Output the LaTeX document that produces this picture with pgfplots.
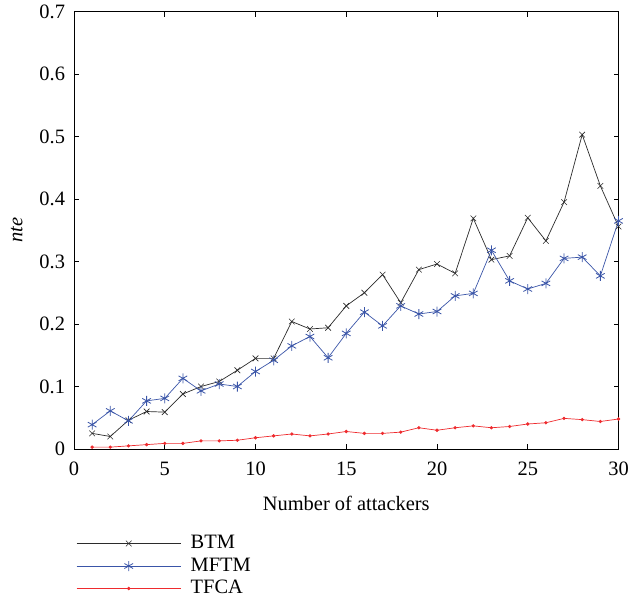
\documentclass[border=0pt]{standalone}
\usepackage{pgfplots}
\pgfplotsset{compat=1.18}
\usepackage{fontspec}
\setmainfont{Liberation Serif}
\definecolor{btm}{HTML}{2B2B2B}
\definecolor{mftm}{HTML}{3A55A8}
\definecolor{tfca}{HTML}{EE2B2E}
\begin{document}
\fontsize{20.5}{23}\selectfont
\begin{tikzpicture}
\useasboundingbox (-74bp,-154bp) rectangle (555bp,437.5bp+11.5bp);
\begin{axis}[
  at={(0,0)}, anchor=south west,
  scale only axis,
  width=544.5bp, height=437.5bp,
  xmin=0, xmax=30, ymin=0, ymax=0.7,
  xtick={0,5,...,30},
  ytick={0,0.1,...,0.7},
  yticklabels={0,0.1,0.2,0.3,0.4,0.5,0.6,0.7},
  tick align=inside,
  major tick length=5bp,
  axis line style={line width=0.9bp},
  every tick/.style={black, line width=0.8bp},
  /pgf/number format/assume math mode=true,
  tick label style={font=\fontsize{20.5}{23}\selectfont},
  xticklabel style={yshift=-6bp},
  yticklabel style={xshift=-2bp},
  xlabel={Number of attackers},
  ylabel={\textit{nte}},
  label style={font=\fontsize{20.5}{23}\selectfont},
  xlabel style={yshift=-7bp},
  ylabel style={yshift=3bp},
  legend style={at={(0.004,-0.195)}, anchor=north west, draw=none, fill=none,
    font=\fontsize{20.5}{23}\selectfont, row sep=4.5bp, inner sep=0pt,
    nodes={inner sep=0bp, text height=14bp, text depth=4bp}},
  legend cell align=left,
  legend image code/.code={\draw[mark repeat=2,mark phase=2,#1] plot coordinates {(0bp,0bp) (52bp,0bp) (104bp,0bp)};
    \path[draw=none,fill=none] (0bp,0bp) -- (114bp,0bp);},
]
\addplot[color=btm, line width=0.7bp, mark=x, mark size=4bp, mark options={line width=0.6bp}] coordinates {
(1,0.025)(2,0.020)(3,0.046)(4,0.060)(5,0.059)(6,0.088)(7,0.100)(8,0.108)(9,0.126)(10,0.145)
(11,0.145)(12,0.204)(13,0.192)(14,0.194)(15,0.229)(16,0.250)(17,0.279)(18,0.234)(19,0.287)(20,0.296)
(21,0.281)(22,0.369)(23,0.303)(24,0.309)(25,0.370)(26,0.333)(27,0.395)(28,0.503)(29,0.421)(30,0.356)};
\addlegendentry{BTM}
\addplot[color=mftm, line width=0.7bp, mark=asterisk, mark size=5bp, mark options={line width=0.8bp}] coordinates {
(1,0.039)(2,0.061)(3,0.045)(4,0.077)(5,0.081)(6,0.113)(7,0.093)(8,0.104)(9,0.100)(10,0.124)
(11,0.142)(12,0.165)(13,0.180)(14,0.146)(15,0.185)(16,0.219)(17,0.197)(18,0.229)(19,0.216)(20,0.220)
(21,0.245)(22,0.249)(23,0.318)(24,0.269)(25,0.256)(26,0.265)(27,0.305)(28,0.307)(29,0.277)(30,0.365)};
\addlegendentry{MFTM}
\addplot[color=tfca, line width=0.7bp, mark=*, mark size=1.3bp] coordinates {
(1,0.003)(2,0.003)(3,0.005)(4,0.007)(5,0.009)(6,0.009)(7,0.013)(8,0.013)(9,0.014)(10,0.018)
(11,0.021)(12,0.024)(13,0.021)(14,0.024)(15,0.028)(16,0.025)(17,0.025)(18,0.027)(19,0.034)(20,0.030)
(21,0.034)(22,0.037)(23,0.034)(24,0.036)(25,0.040)(26,0.042)(27,0.049)(28,0.047)(29,0.044)(30,0.048)};
\addlegendentry{TFCA}
\end{axis}
\end{tikzpicture}
\end{document}
